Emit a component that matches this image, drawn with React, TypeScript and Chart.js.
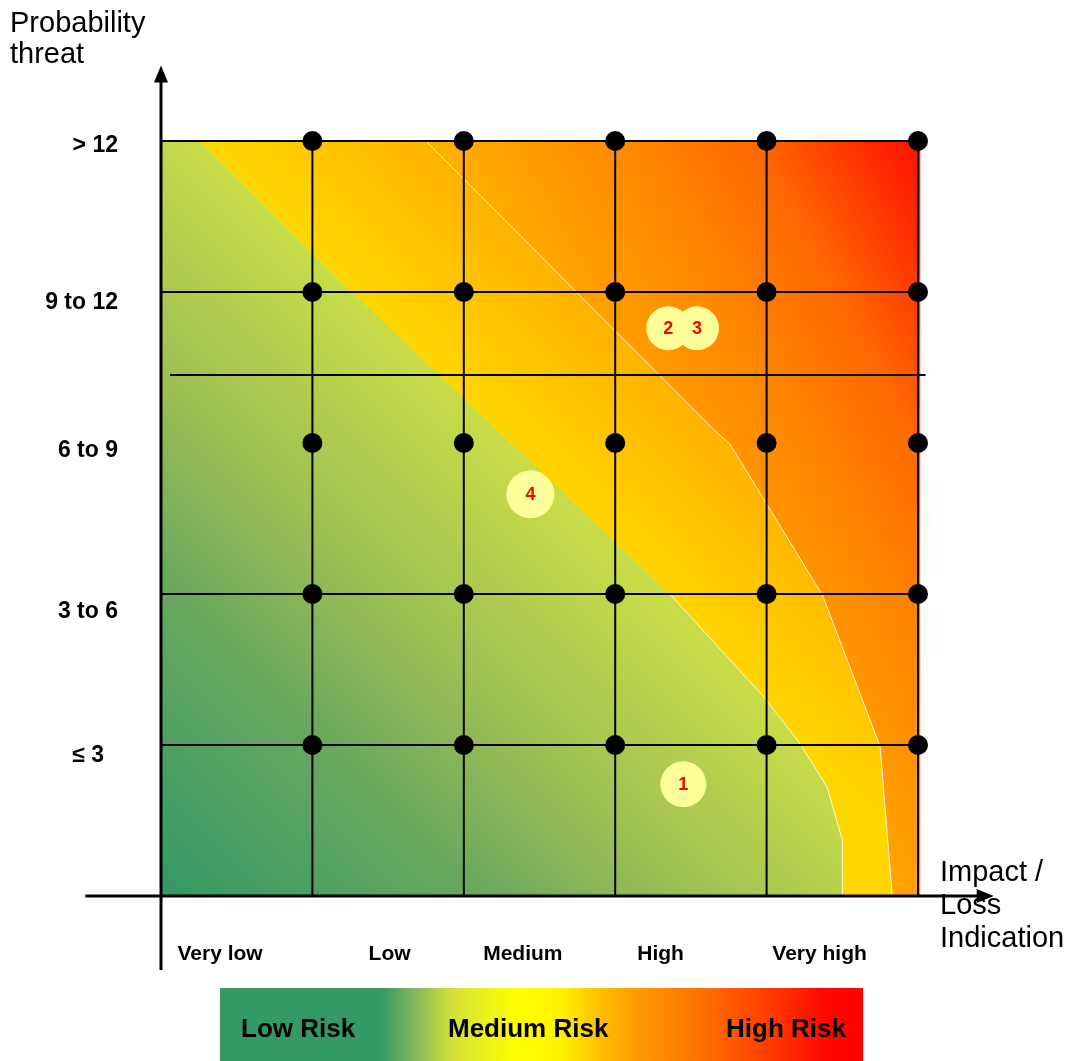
import React, { useEffect, useRef } from 'react';
import { Chart, registerables } from 'chart.js';

Chart.register(...registerables);

// ---------- data ----------
const impactLabels = ['Very low', 'Low', 'Medium', 'High', 'Very high'];
const impactLabelPos = [0.39, 1.51, 2.39, 3.3, 4.35];
const probabilityLabels = ['≤ 3', '3 to 6', '6 to 9', '9 to 12', '> 12'];
const probabilityLabelPos = [0.93, 1.88, 2.95, 3.93, 4.97];

const gridColumns = [1, 2, 3, 4, 5];
const gridRows = [1, 2, 3.45, 4, 5];
const gridRowStart = [0, 0, 0.06, 0, 0];
const gridRowEnd = [5, 5, 5.05, 5, 5];

const dotColumns = [1, 2, 3, 4, 5];
const dotRows = [1, 2, 3, 4, 5];

const riskIds = ['1', '2', '3', '4'];
const riskImpact = [3.45, 3.35, 3.54, 2.44];
const riskProbability = [0.74, 3.76, 3.76, 2.66];

const lowMediumBoundary: number[][] = [
  [0.26, 5], [1.26, 4], [3.36, 2], [3.98, 1.32], [4.22, 1.01], [4.4, 0.72], [4.5, 0.37], [4.5, 0],
];
const mediumHighBoundary: number[][] = [
  [1.75, 5], [3.65, 3.09], [3.76, 2.99], [4.37, 1.99], [4.75, 0.99], [4.83, 0],
];

const legendLabels = ['Low Risk', 'Medium Risk', 'High Risk'];

// ---------- styles / layout ----------
const FONT = '"Liberation Sans", Arial, Helvetica, sans-serif';

const riskPlugin = {
  id: 'riskMatrix',
  beforeDatasetsDraw(chart: any) {
    const { ctx, scales } = chart;
    const xs = scales.x;
    const ys = scales.y;
    const P = (a: number, b: number) => [xs.getPixelForValue(a), ys.getPixelForValue(b)];
    const path = (pts: number[][]) => {
      ctx.beginPath();
      pts.forEach(([a, b], i) => {
        const [px, py] = P(a, b);
        if (i === 0) ctx.moveTo(px, py);
        else ctx.lineTo(px, py);
      });
      ctx.closePath();
    };
    ctx.save();
    // High zone (whole area)
    const [r0x, r0y] = P(5, 5);
    const [r1x, r1y] = P(2.4, 3.56);
    const gHigh = ctx.createLinearGradient(r0x, r0y, r1x, r1y);
    gHigh.addColorStop(0, '#ff1200');
    gHigh.addColorStop(0.15, '#ff3800');
    gHigh.addColorStop(0.32, '#ff6800');
    gHigh.addColorStop(0.55, '#ff8600');
    gHigh.addColorStop(0.8, '#ffa000');
    gHigh.addColorStop(1, '#ffb800');
    path([[0, 0], [0, 5], [5.015, 5], [5.015, 0]]);
    ctx.fillStyle = gHigh;
    ctx.fill();

    // Medium zone
    const [m0x, m0y] = P(2.64, 2.65);
    const [m1x, m1y] = P(3.34, 3.34);
    const gMed = ctx.createLinearGradient(m0x, m0y, m1x, m1y);
    gMed.addColorStop(0, '#ffd600');
    gMed.addColorStop(1, '#ffb400');
    path([[0, 0], [0, 5], ...mediumHighBoundary]);
    ctx.fillStyle = gMed;
    ctx.fill();

    // Low zone
    const [l0x, l0y] = P(0, 0);
    const [l1x, l1y] = P(2.64, 2.65);
    const gLow = ctx.createLinearGradient(l0x, l0y, l1x, l1y);
    gLow.addColorStop(0, '#339966');
    gLow.addColorStop(0.4, '#6aa85e');
    gLow.addColorStop(0.65, '#9cbf54');
    gLow.addColorStop(0.9, '#bdd54b');
    gLow.addColorStop(1, '#c9dc48');
    path([[0, 0], [0, 5], ...lowMediumBoundary]);
    ctx.fillStyle = gLow;
    ctx.fill();

    // thin white boundary lines
    ctx.strokeStyle = 'rgba(255,255,255,0.85)';
    ctx.lineWidth = 1;
    const stroke = (pts: number[][]) => {
      ctx.beginPath();
      pts.forEach(([a, b], i) => {
        const [px, py] = P(a, b);
        if (i === 0) ctx.moveTo(px, py);
        else ctx.lineTo(px, py);
      });
      ctx.stroke();
    };
    stroke(mediumHighBoundary);
    stroke(lowMediumBoundary.slice(2));
    ctx.restore();
  },
  afterDatasetsDraw(chart: any) {
    const { ctx, scales } = chart;
    ctx.save();
    ctx.fillStyle = '#ff0000';
    ctx.font = `bold 18px ${FONT}`;
    ctx.textAlign = 'center';
    ctx.textBaseline = 'middle';
    riskIds.forEach((id, i) => {
      ctx.fillText(id, scales.x.getPixelForValue(riskImpact[i]), scales.y.getPixelForValue(riskProbability[i]) + 1);
    });
    ctx.restore();
  },
  afterDraw(chart: any) {
    const { ctx, scales } = chart;
    const xs = scales.x;
    const ys = scales.y;
    ctx.save();
    // axes
    ctx.strokeStyle = '#000';
    ctx.fillStyle = '#000';
    ctx.lineWidth = 3;
    const x0 = xs.getPixelForValue(0);
    const y0 = ys.getPixelForValue(0);
    const yTop = ys.getPixelForValue(5.5);
    const yBot = ys.getPixelForValue(-0.49);
    const xLeft = xs.getPixelForValue(-0.5);
    const xRight = xs.getPixelForValue(5.5);
    ctx.beginPath();
    ctx.moveTo(x0, yBot);
    ctx.lineTo(x0, yTop + 12);
    ctx.stroke();
    ctx.beginPath();
    ctx.moveTo(x0, yTop);
    ctx.lineTo(x0 - 7, yTop + 17);
    ctx.lineTo(x0 + 7, yTop + 17);
    ctx.closePath();
    ctx.fill();
    ctx.beginPath();
    ctx.moveTo(xLeft, y0);
    ctx.lineTo(xRight - 12, y0);
    ctx.stroke();
    ctx.beginPath();
    ctx.moveTo(xRight, y0);
    ctx.lineTo(xRight - 17, y0 - 7);
    ctx.lineTo(xRight - 17, y0 + 7);
    ctx.closePath();
    ctx.fill();

    // axis titles
    ctx.font = `29px ${FONT}`;
    ctx.textAlign = 'left';
    ctx.textBaseline = 'alphabetic';
    ctx.fillText('Probability', 10, 32);
    ctx.fillText('threat', 10, 63);
    ctx.fillText('Impact /', 940, 881);
    ctx.fillText('Loss', 940, 914);
    ctx.fillText('Indication', 940, 947);

    // probability tick labels
    ctx.font = `bold 23px ${FONT}`;
    ctx.textAlign = 'right';
    ctx.textBaseline = 'middle';
    probabilityLabels.forEach((lab, i) => {
      const right = i === 0 ? 104 : 118;
      ctx.fillText(lab, right, ys.getPixelForValue(probabilityLabelPos[i]));
    });

    // impact tick labels
    ctx.font = `bold 21px ${FONT}`;
    ctx.textAlign = 'center';
    ctx.textBaseline = 'alphabetic';
    impactLabels.forEach((lab, i) => {
      ctx.fillText(lab, xs.getPixelForValue(impactLabelPos[i]), 960);
    });

    // legend bar
    const bx = 220, by = 988, bw = 643, bh = 73;
    const g = ctx.createLinearGradient(bx, 0, bx + bw, 0);
    g.addColorStop(0, '#339966');
    g.addColorStop(0.25, '#339966');
    g.addColorStop(0.3, '#7fb55c');
    g.addColorStop(0.36, '#d4e03a');
    g.addColorStop(0.46, '#ffff00');
    g.addColorStop(0.53, '#fff200');
    g.addColorStop(0.59, '#ffc000');
    g.addColorStop(0.65, '#ff9900');
    g.addColorStop(0.75, '#ff7000');
    g.addColorStop(0.87, '#ff3300');
    g.addColorStop(0.94, '#ff0800');
    g.addColorStop(1, '#ff0000');
    ctx.fillStyle = g;
    ctx.fillRect(bx, by, bw, bh);
    ctx.fillStyle = '#000';
    ctx.font = `bold 26px ${FONT}`;
    ctx.textAlign = 'left';
    ctx.fillText(legendLabels[0], 241, 1037);
    ctx.fillText(legendLabels[1], 448, 1037);
    ctx.fillText(legendLabels[2], 726, 1037);
    ctx.restore();
  },
};

export default function App() {
  const ref = useRef<HTMLCanvasElement | null>(null);
  useEffect(() => {
    if (!ref.current) return;
    const lineStyle = {
      showLine: true,
      borderColor: '#000',
      borderWidth: 2,
      pointRadius: 0,
      clip: false as any,
      order: 3,
    };
    const datasets: any[] = [];
    gridColumns.forEach((c) => {
      datasets.push({ ...lineStyle, data: [{ x: c, y: 0 }, { x: c, y: 5 }] });
    });
    gridRows.forEach((r, i) => {
      datasets.push({ ...lineStyle, data: [{ x: gridRowStart[i], y: r }, { x: gridRowEnd[i], y: r }] });
    });
    datasets.push({
      data: dotRows.flatMap((r) => dotColumns.map((c) => ({ x: c, y: r }))),
      pointRadius: 10,
      pointBackgroundColor: '#000',
      pointBorderWidth: 0,
      clip: false,
      order: 2,
    });
    datasets.push({
      data: riskIds.map((_, i) => ({ x: riskImpact[i], y: riskProbability[i] })),
      pointRadius: [23, 22, 22, 24],
      pointBackgroundColor: '#ffff99',
      pointBorderWidth: 0,
      clip: false,
      order: 1,
    });
    const chart = new Chart(ref.current, {
      type: 'scatter',
      data: { datasets },
      options: {
        animation: false,
        responsive: true,
        maintainAspectRatio: false,
        events: [],
        layout: { padding: { left: 161, right: 150, top: 141, bottom: 165 } },
        scales: {
          x: { type: 'linear', min: 0, max: 5, display: false },
          y: { type: 'linear', min: 0, max: 5, display: false },
        },
        plugins: { legend: { display: false }, tooltip: { enabled: false } },
      },
      plugins: [riskPlugin],
    } as any);
    return () => chart.destroy();
  }, []);
  return (
    <div style={{ position: 'fixed', left: 0, top: 0, width: 1068, height: 1061, background: '#fff' }}>
      <canvas ref={ref} />
    </div>
  );
}
